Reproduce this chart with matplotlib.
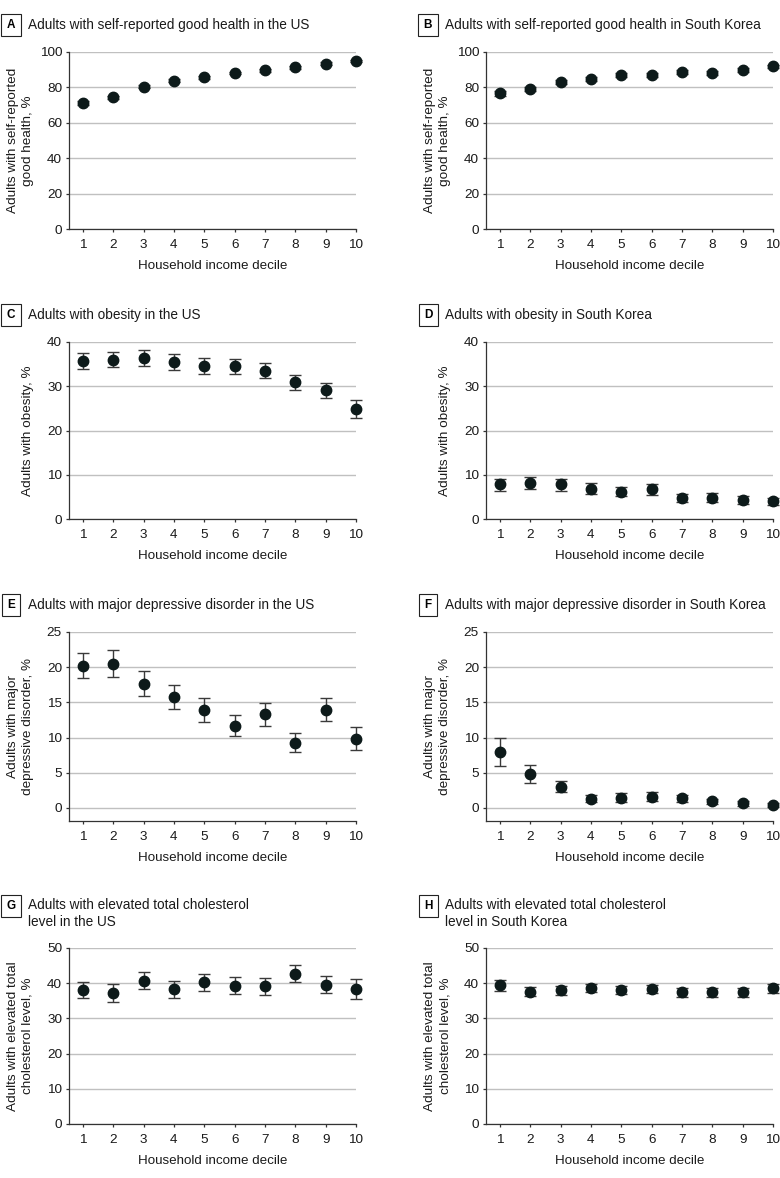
import matplotlib
matplotlib.use("Agg")
import matplotlib.pyplot as plt
from matplotlib.transforms import offset_copy

plt.rcParams['font.family'] = ['Liberation Sans', 'DejaVu Sans']
plt.rcParams['font.size'] = 9.5

# Household income deciles
deciles = [1, 2, 3, 4, 5, 6, 7, 8, 9, 10]

# A - self-reported good health, US
us_health = [71.1, 74.3, 80.5, 83.7, 85.8, 88.1, 89.6, 91.3, 93.4, 94.9]
us_health_lo = [70.1, 73.3, 79.6, 82.8, 84.9, 87.3, 88.8, 90.5, 92.7, 94.3]
us_health_hi = [72.1, 75.3, 81.4, 84.6, 86.7, 88.9, 90.4, 92.1, 94.1, 95.5]

# B - self-reported good health, South Korea
kr_health = [76.6, 79.0, 83.2, 84.9, 87.0, 86.8, 88.7, 88.3, 90.0, 91.9]
kr_health_lo = [75.4, 77.9, 82.1, 83.8, 85.9, 85.7, 87.6, 87.1, 88.9, 90.9]
kr_health_hi = [77.8, 80.1, 84.3, 86.0, 88.1, 87.9, 89.8, 89.5, 91.1, 92.9]

# C - obesity, US
us_obes = [35.7, 36.0, 36.3, 35.5, 34.5, 34.5, 33.5, 30.9, 29.1, 24.9]
us_obes_lo = [34.0, 34.3, 34.6, 33.7, 32.8, 32.8, 31.8, 29.2, 27.4, 22.9]
us_obes_hi = [37.5, 37.8, 38.1, 37.3, 36.3, 36.2, 35.3, 32.6, 30.7, 26.8]

# D - obesity, South Korea
kr_obes = [7.9, 8.1, 7.9, 6.8, 6.2, 6.7, 4.8, 4.8, 4.2, 4.0]
kr_obes_lo = [6.3, 6.7, 6.4, 5.7, 5.1, 5.5, 3.8, 3.8, 3.4, 3.1]
kr_obes_hi = [9.1, 9.5, 9.1, 8.2, 7.3, 7.9, 5.7, 5.9, 5.1, 4.8]

# E - major depressive disorder, US
us_mdd = [20.1, 20.4, 17.6, 15.7, 13.9, 11.7, 13.3, 9.3, 13.9, 9.8]
us_mdd_lo = [18.4, 18.6, 15.9, 14.0, 12.2, 10.2, 11.7, 7.9, 12.3, 8.2]
us_mdd_hi = [22.0, 22.4, 19.4, 17.5, 15.6, 13.2, 14.9, 10.6, 15.6, 11.5]

# F - major depressive disorder, South Korea
kr_mdd = [8.0, 4.8, 3.0, 1.3, 1.4, 1.6, 1.4, 0.95, 0.7, 0.4]
kr_mdd_lo = [6.0, 3.6, 2.2, 0.85, 0.8, 1.0, 0.85, 0.5, 0.3, 0.15]
kr_mdd_hi = [9.9, 6.1, 3.9, 1.9, 2.1, 2.2, 1.9, 1.3, 1.0, 0.7]

# G - elevated total cholesterol, US
us_chol = [38.2, 37.2, 40.6, 38.4, 40.2, 39.3, 39.1, 42.6, 39.5, 38.4]
us_chol_lo = [35.7, 34.8, 38.4, 35.9, 37.8, 36.9, 36.6, 40.3, 37.1, 35.6]
us_chol_hi = [40.3, 39.7, 43.1, 40.6, 42.5, 41.7, 41.6, 45.2, 42.0, 41.2]

# H - elevated total cholesterol, South Korea
kr_chol = [39.4, 37.6, 38.1, 38.7, 38.2, 38.4, 37.4, 37.4, 37.4, 38.5]
kr_chol_lo = [37.9, 36.3, 36.7, 37.5, 36.9, 37.1, 36.2, 36.2, 36.2, 37.2]
kr_chol_hi = [40.8, 39.0, 39.3, 39.9, 39.3, 39.6, 38.6, 38.6, 38.6, 39.7]

fig = plt.figure(figsize=(7.8, 11.78), dpi=100)
W, H = 780, 1178

col_left = [69, 486]
col_width = 287
rows = [(52, 229), (342, 519), (632, 821), (948, 1124)]


def make_axes(col, row):
    top, bot = rows[row]
    return fig.add_axes([col_left[col] / W, 1 - bot / H,
                         col_width / W, (bot - top) / H])


def panel(ax, letter, title, ylabel, y, lo, hi, ymax, ystep, ymin=0,
          title_up=23.5, box_up=23.5):
    yerr = [[v - l for v, l in zip(y, lo)], [h - v for v, h in zip(y, hi)]]
    ax.errorbar(deciles, y, yerr=yerr, fmt='o', color='#0d1a1a', ms=7.5,
                ecolor='#3a3a3a', elinewidth=1.0, capsize=4, capthick=1.0,
                clip_on=False, zorder=3)
    ax.set_xlim(0.54, 10)
    ax.set_ylim(ymin, ymax)
    ax.set_xticks(deciles)
    ax.set_yticks(range(0, ymax + 1, ystep))
    ax.yaxis.grid(True, color='#c0c0c0', lw=1.0)
    ax.set_axisbelow(True)
    for s in ['top', 'right']:
        ax.spines[s].set_visible(False)
    for s in ['left', 'bottom']:
        ax.spines[s].set_color('#333333')
        ax.spines[s].set_linewidth(0.9)
    ax.tick_params(axis='both', length=2.5, width=0.9, color='#333333',
                   labelsize=9.7, pad=2.5, labelcolor='#1a1a1a')
    ax.tick_params(axis='x', pad=5)
    ax.set_ylabel(ylabel, fontsize=9.7, linespacing=1.35, color='#1a1a1a')
    ax.yaxis.set_label_coords(0, 0.5, transform=offset_copy(
        ax.transAxes, fig=fig, x=-35, y=0, units='dots'))
    ax.set_xlabel('Household income decile', fontsize=9.6, color='#1a1a1a')
    ax.xaxis.set_label_coords(0.5, 0, transform=offset_copy(
        ax.transAxes, fig=fig, x=0, y=-31, units='dots'))
    ax.text(0, 1, title, fontsize=9.8, ha='left', va='baseline', linespacing=1.3,
            color='#1a1a1a',
            transform=offset_copy(ax.transAxes, fig=fig, x=-41, y=title_up, units='dots'))
    ax.text(0, 1, letter, fontsize=8.5, fontweight='bold', ha='center', va='baseline',
            transform=offset_copy(ax.transAxes, fig=fig, x=-58, y=box_up + 0.5, units='dots'),
            bbox=dict(boxstyle='square,pad=0.45', fc='white', ec='#222222', lw=0.8))


axA = make_axes(0, 0)
panel(axA, 'A', 'Adults with self-reported good health in the US',
      'Adults with self-reported\ngood health, %', us_health, us_health_lo, us_health_hi, 100, 20)
axB = make_axes(1, 0)
panel(axB, 'B', 'Adults with self-reported good health in South Korea',
      'Adults with self-reported\ngood health, %', kr_health, kr_health_lo, kr_health_hi, 100, 20)

axC = make_axes(0, 1)
panel(axC, 'C', 'Adults with obesity in the US',
      'Adults with obesity, %', us_obes, us_obes_lo, us_obes_hi, 40, 10)
axD = make_axes(1, 1)
panel(axD, 'D', 'Adults with obesity in South Korea',
      'Adults with obesity, %', kr_obes, kr_obes_lo, kr_obes_hi, 40, 10)

axE = make_axes(0, 2)
panel(axE, 'E', 'Adults with major depressive disorder in the US',
      'Adults with major\ndepressive disorder, %', us_mdd, us_mdd_lo, us_mdd_hi, 25, 5, ymin=-1.85)
axF = make_axes(1, 2)
panel(axF, 'F', 'Adults with major depressive disorder in South Korea',
      'Adults with major\ndepressive disorder, %', kr_mdd, kr_mdd_lo, kr_mdd_hi, 25, 5, ymin=-1.85)

axG = make_axes(0, 3)
panel(axG, 'G', 'Adults with elevated total cholesterol\nlevel in the US',
      'Adults with elevated total\ncholesterol level, %', us_chol, us_chol_lo, us_chol_hi, 50, 10,
      title_up=21.5, box_up=38.5)
axH = make_axes(1, 3)
panel(axH, 'H', 'Adults with elevated total cholesterol\nlevel in South Korea',
      'Adults with elevated total\ncholesterol level, %', kr_chol, kr_chol_lo, kr_chol_hi, 50, 10,
      title_up=21.5, box_up=38.5)

fig.savefig('out.png', dpi=100)
